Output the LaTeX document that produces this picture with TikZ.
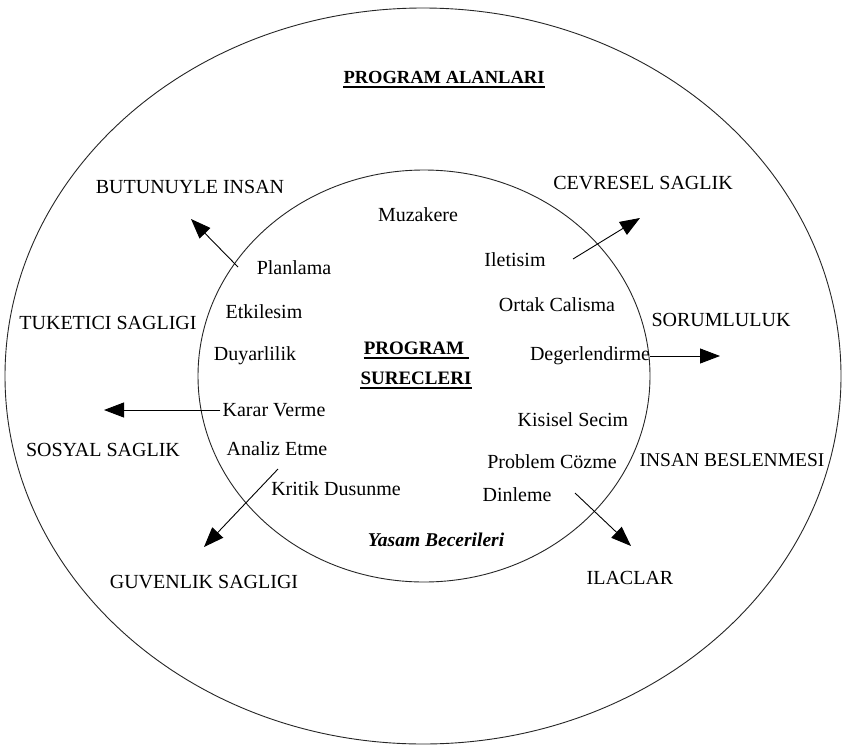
\documentclass[tikz,border=0pt]{standalone}
\usepackage{fontspec}
\setmainfont{Liberation Serif}
\usetikzlibrary{arrows.meta}
\tikzset{
  ring/.style={draw=black!85, line width=0.9pt},
  lbl/.style={inner sep=0pt, font=\fontsize{20}{22}\selectfont},
  hd/.style={inner sep=0pt, font=\fontsize{18.5}{21}\selectfont\bfseries},
  link/.style={line width=0.9pt, -{Triangle[length=20pt,width=15pt]}},
  uline/.style={line width=1.5pt}
}
\begin{document}
\begin{tikzpicture}[x=1pt,y=-1pt]
\useasboundingbox (0,0) rectangle (843,747);
\fill[white] (0,0) rectangle (843,747);

% the two areas
\draw[ring] (423,376) ellipse [x radius=418, y radius=368];
\draw[ring] (424,376) ellipse [x radius=226, y radius=206];

% outer ring: programme areas
\node[hd] (alan) at (444,77) {PROGRAM ALANLARI};
\draw[uline] ([yshift=-4pt]alan.base west) -- ([yshift=-4pt]alan.base east);
\node[lbl] (butun) at (190,187) {BUTUNUYLE INSAN};
\node[lbl] (cevre) at (643,183) {CEVRESEL SAGLIK};
\node[lbl] (tuket) at (108,323) {TUKETICI SAGLIGI};
\node[lbl] (sorum) at (721,320) {SORUMLULUK};
\node[lbl] (sosyal) at (103,450) {SOSYAL SAGLIK};
\node[lbl, font=\fontsize{19.5}{22}\selectfont] (beslen) at (732,460) {INSAN BESLENMESI};
\node[lbl] (guven) at (204,582) {GUVENLIK SAGLIGI};
\node[lbl] (ilac) at (630,578) {ILACLAR};

% inner ring: programme processes
\node[hd, font=\fontsize{19}{21}\selectfont\bfseries] (prog) at (414,348) {PROGRAM};
\node[hd, font=\fontsize{19}{21}\selectfont\bfseries] (surec) at (416,378) {SURECLERI};
\draw[uline] ([yshift=-4pt]prog.base west) -- ([yshift=-4pt,xshift=5pt]prog.base east);
\draw[uline] ([yshift=-4pt]surec.base west) -- ([yshift=-4pt]surec.base east);

\node[lbl] (muza) at (418,215) {Muzakere};
\node[lbl] (ilet) at (515,260) {Iletisim};
\node[lbl] (plan) at (294,268) {Planlama};
\node[lbl] (etki) at (264,312) {Etkilesim};
\node[lbl] (ortak) at (557,305) {Ortak Calisma};
\node[lbl] (duyar) at (255,356) {Duyarlilik};
\node[lbl] (deger) at (590,356) {Degerlendirme};
\node[lbl] (karar) at (274,410) {Karar Verme};
\node[lbl] (kisi) at (573,420) {Kisisel Secim};
\node[lbl] (analiz) at (277,449) {Analiz Etme};
\node[lbl] (probl) at (552,462) {Problem Cözme};
\node[lbl] (kritik) at (336,489) {Kritik Dusunme};
\node[lbl] (dinle) at (517,495) {Dinleme};
\node[lbl, font=\fontsize{19.5}{21}\selectfont\bfseries\itshape] (yasam) at (436,540) {Yasam Becerileri};

% connector ends
\coordinate (pS) at (238,267);  \coordinate (pE) at (191,219);
\coordinate (iS) at (573,259);  \coordinate (iE) at (640,218);
\coordinate (dS) at (deger.east); \coordinate (dE) at (720,356);
\coordinate (kS) at (karar.west); \coordinate (kE) at (104,410);
\coordinate (aS) at (278,469);  \coordinate (aE) at (204,547);
\coordinate (nS) at (575,493);  \coordinate (nE) at (631,546);

\draw[link] (pS) -- (pE);
\draw[link] (iS) -- (iE);
\draw[link] (dS) -- (dE);
\draw[link] ([xshift=-2pt]kS) -- (kE);
\draw[link] (aS) -- (aE);
\draw[link] (nS) -- (nE);
\end{tikzpicture}
\end{document}
